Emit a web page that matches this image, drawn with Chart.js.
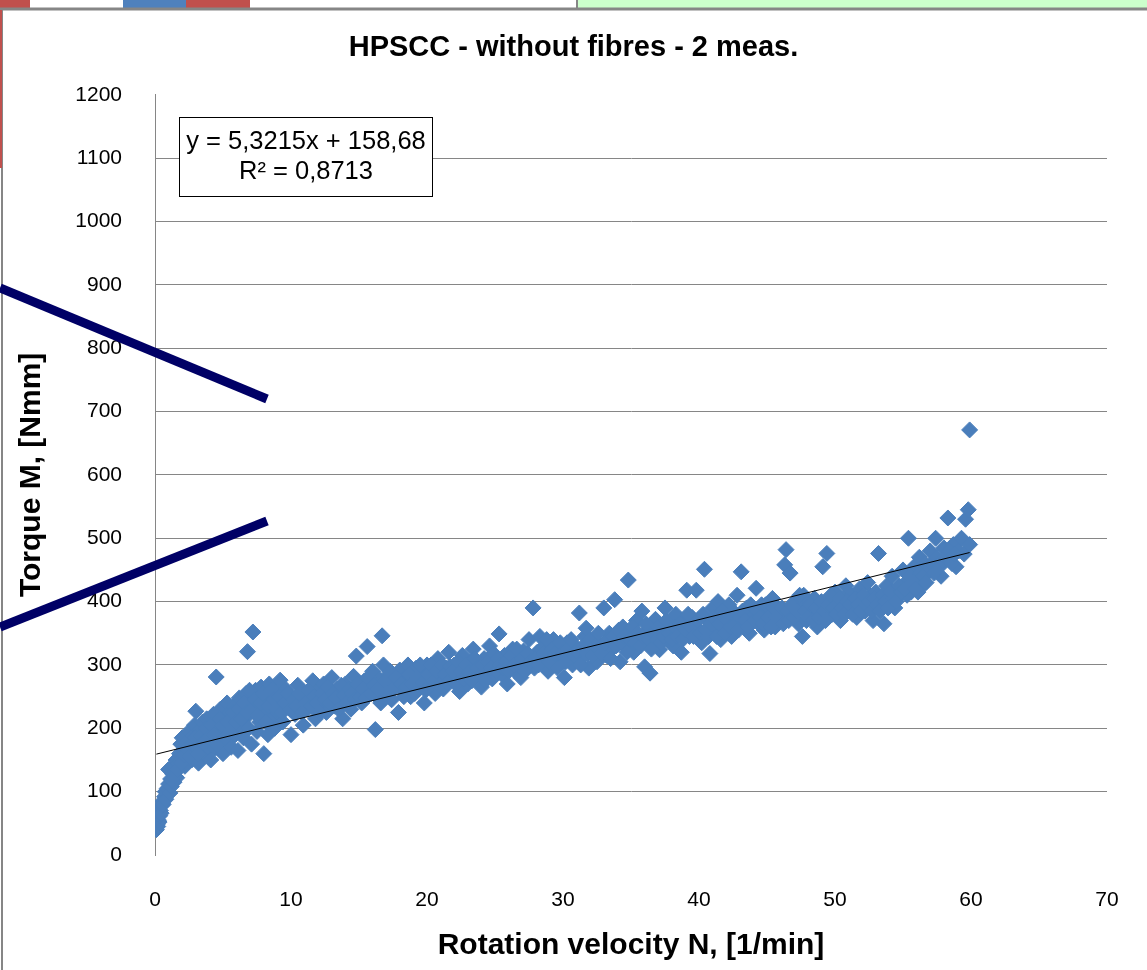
<!DOCTYPE html>
<html>
<head>
<meta charset="utf-8">
<title>HPSCC - without fibres - 2 meas.</title>
<script src="https://cdn.jsdelivr.net/npm/chart.js@4.4.1/dist/chart.umd.min.js"></script>
<style>
    html, body { margin: 0; padding: 0; background: #fff; overflow: hidden; }
    #wrap { position: relative; width: 1147px; height: 970px; }
    #chart, #overlay { position: absolute; left: 0; top: 0; }
    #overlay { pointer-events: none; }
</style>
</head>
<body>
<div id="wrap">
    <canvas id="chart" width="1147" height="970"></canvas>
    <!-- screenshot leftovers: worksheet strip, frame and the two pen strokes -->
    <svg id="overlay" width="1147" height="970">
        <rect x="0" y="0" width="30" height="8" fill="#c0504d"/>
        <rect x="123" y="0" width="63" height="8" fill="#4f81bd"/>
        <rect x="186" y="0" width="64" height="8" fill="#c0504d"/>
        <rect x="578" y="0" width="569" height="8" fill="#ccffcc"/>
        <line x1="577" y1="0" x2="577" y2="8" stroke="#868686" stroke-width="2"/>
        <line x1="0" y1="9" x2="1147" y2="9" stroke="#868686" stroke-width="3"/>
        <line x1="2" y1="9" x2="2" y2="970" stroke="#868686" stroke-width="2"/>
        <rect x="0" y="10" width="2" height="158" fill="#c0504d"/>
        <line x1="0" y1="288" x2="267" y2="399" stroke="#000066" stroke-width="9"/>
        <line x1="0" y1="627" x2="267" y2="521" stroke="#000066" stroke-width="9"/>
    </svg>
</div>
<script>
document.addEventListener('DOMContentLoaded', function () {

    // --- DATA ---
    const velocity = [
        0.1,0.15,0.2,0.25,0.3,0.35,0.4,0.45,0.5,0.55,0.6,0.7,0.75,0.8,0.9,1.0,1.0,1.1,1.15,1.2,
        1.3,1.35,1.4,1.5,1.55,1.6,1.7,1.8,1.85,1.9,2.0,2.0,2.1,2.2,2.3,2.4,2.5,2.6,2.7,2.8,
        2.9,3.0,3.0,3.1,3.2,3.3,3.4,3.5,3.6,3.7,3.8,3.9,4.0,4.1,4.2,4.3,4.4,4.5,4.5,4.6,
        4.7,4.8,4.9,5.0,5.1,5.2,5.3,5.4,5.5,5.6,5.7,5.8,5.9,6.0,6.1,6.2,6.3,6.4,6.5,6.6,
        6.8,6.7,6.9,7.0,7.1,7.2,7.3,7.4,7.5,7.6,7.7,7.8,8.0,8.1,8.2,8.3,8.4,8.5,8.6,8.8,
        8.9,9.0,9.2,9.3,9.4,9.6,9.8,10.0,10.1,10.3,10.5,10.7,10.9,11.0,11.2,11.4,11.6,11.8,12.0,12.2,
        12.4,12.6,12.8,13.0,13.2,13.4,13.6,13.8,14.0,14.2,14.4,14.6,14.8,15.0,15.2,15.4,15.6,15.8,16.0,16.2,
        16.3,16.5,16.7,16.8,17.0,17.2,17.4,17.6,17.9,18.0,18.2,18.4,18.6,18.8,19.0,19.2,19.4,19.6,19.8,20.0,
        20.2,20.4,20.6,20.8,21.0,21.2,21.4,21.6,21.8,22.0,22.2,22.4,22.6,22.8,23.0,23.2,23.4,23.6,23.8,24.0,
        24.2,24.4,24.6,24.8,25.0,25.3,25.5,25.7,25.9,26.1,26.3,26.5,26.7,26.9,27.1,27.3,27.5,27.8,27.9,28.1,
        28.3,28.5,28.7,28.9,29.1,29.3,29.5,29.7,29.9,30.1,30.3,30.5,30.7,30.9,31.2,31.4,31.6,31.7,31.9,32.1,
        32.3,32.5,32.7,33.0,33.2,33.4,33.6,33.8,34.0,34.2,34.4,34.6,34.8,35.0,35.2,35.4,35.6,35.8,36.0,36.2,
        36.4,36.6,36.8,37.1,37.3,37.5,37.7,37.9,38.1,38.3,38.5,38.7,38.9,39.1,39.3,39.5,39.8,40.0,40.2,40.4,
        40.6,40.8,41.0,41.2,41.4,41.6,41.8,42.0,42.2,42.4,42.6,42.8,43.1,43.3,43.5,43.7,44.0,44.2,44.4,44.6,
        44.8,45.0,45.2,45.4,45.6,45.8,46.0,46.3,46.4,46.7,46.9,47.1,47.3,47.5,47.7,47.9,48.1,48.3,48.5,48.7,
        48.9,49.1,49.4,49.6,49.8,50.0,50.2,50.4,50.6,50.8,51.0,51.2,51.4,51.6,51.8,52.0,52.2,52.4,52.6,52.8,
        53.0,53.2,53.4,53.6,53.8,54.0,54.2,54.4,54.6,54.8,55.0,55.2,55.4,55.6,55.8,56.0,56.2,56.4,56.6,56.8,
        57.0,57.2,57.4,57.6,57.8,58.0,58.3,58.5,58.7,58.9,59.1,59.3,59.5,59.6,59.8,59.9,59.9,55.3,56.1,47.6,
        1.25,1.45,1.65,1.95,2.15,2.35,2.55,2.75,2.95,3.15,3.35,3.55,3.75,3.95,4.15,4.35,4.55,4.75,4.95,5.15,
        5.35,5.55,5.75,5.95,6.15,6.35,6.55,6.75,6.95,7.15,7.35,7.55,7.75,7.95,8.15,8.35,8.55,8.75,8.95,9.15,
        9.35,9.55,9.75,9.95,10.2,10.4,10.6,10.8,11.1,11.3,11.5,11.7,11.9,12.1,12.3,12.5,12.7,12.9,13.1,13.3,
        13.5,13.7,13.9,14.1,14.3,14.5,14.7,14.9,15.1,15.3,15.5,15.7,15.9,16.1,16.4,16.6,16.9,17.1,17.3,17.5,
        17.7,18.1,18.3,18.5,18.7,18.9,19.1,19.3,19.5,19.7,19.9,20.1,20.3,20.5,20.7,20.9,21.1,21.3,21.5,21.7,
        21.9,22.1,22.3,22.5,22.7,22.9,23.1,23.3,23.5,23.7,23.9,24.1,24.3,24.5,24.7,24.9,25.1,25.2,25.4,25.6,
        25.8,26.0,26.2,26.4,26.6,26.8,27.0,27.2,27.4,27.6,28.0,28.2,28.4,28.6,28.8,29.0,29.2,29.4,29.6,29.8,
        30.0,30.2,30.4,30.6,30.8,31.0,31.3,31.5,31.8,32.0,32.2,32.4,32.6,32.8,33.1,33.3,33.5,33.7,33.9,34.1,
        34.3,34.5,34.7,34.9,35.1,35.3,35.5,35.7,35.9,36.1,36.3,36.5,36.7,36.9,37.0,37.2,37.4,37.6,37.8,38.0,
        38.2,38.4,38.6,38.8,39.0,39.2,39.4,39.6,39.9,40.1,40.3,40.5,40.7,40.9,41.1,41.3,41.5,41.7,41.9,42.1,
        42.3,42.5,42.7,42.9,43.0,43.2,43.4,43.6,43.8,44.1,44.3,44.5,44.7,44.9,45.1,45.3,45.5,45.7,46.1,46.2,
        46.5,46.6,46.8,47.0,47.2,47.4,47.8,48.0,48.2,48.4,48.6,48.8,49.0,49.2,49.3,49.5,49.7,49.9,50.1,50.3,
        50.5,50.7,50.9,51.1,51.3,51.5,51.7,51.9,52.1,52.3,52.5,52.7,52.9,53.1,53.3,53.5,53.7,53.9,54.1,54.3,
        54.5,54.7,54.9,55.1,55.5,55.7,55.9,56.3,56.5,56.7,56.9,57.1,57.3,57.5,57.7,57.9,58.1,58.4,58.6,58.8
    ];
    const torque = [
        40,48,45,55,52,62,70,66,78,85,80,92,100,88,105,112,135,98,120,108,
        128,140,115,132,150,122,145,160,138,175,152,185,165,140,178,158,195,170,150,188,
        205,227,165,180,145,198,175,210,160,190,215,170,200,150,185,222,168,281,195,210,
        175,230,190,160,215,200,240,180,225,170,205,235,190,220,165,248,200,230,185,215,
        321,255,200,240,175,352,225,260,195,245,210,265,160,230,250,190,270,215,240,200,
        258,225,276,245,210,262,235,190,250,222,268,240,205,255,230,248,275,215,260,238,
        270,225,252,280,235,262,245,215,270,250,230,282,314,258,240,275,329,262,290,198,
        250,278,346,300,265,285,245,272,225,292,260,280,300,250,275,295,262,285,240,300,
        270,288,255,310,280,262,295,320,275,300,285,258,315,290,270,305,325,282,300,265,
        310,290,330,278,300,349,285,315,270,305,325,290,310,280,322,300,340,390,295,320,
        345,305,330,290,315,340,300,325,310,280,335,315,300,330,382,310,345,358,295,325,
        340,305,330,390,315,350,325,403,340,305,360,330,434,350,320,370,340,385,297,355,
        287,335,372,324,350,390,340,365,330,380,350,320,370,418,345,375,418,355,335,451,
        370,318,390,355,400,340,375,360,395,345,380,410,447,360,390,350,380,421,365,395,
        355,385,370,405,360,390,375,458,482,445,380,400,365,390,410,370,395,380,405,360,
        390,455,476,400,380,415,395,370,405,425,385,410,395,375,420,400,385,430,410,370,
        415,476,395,365,425,405,440,390,420,410,450,430,500,415,455,435,470,425,460,445,
        480,450,500,465,440,485,532,470,490,455,480,500,475,530,545,490,671,410,415,345,
        118,125,135,145,158,168,155,175,185,160,188,178,200,185,205,190,175,215,205,185,
        210,195,225,210,230,215,240,225,260,230,245,220,240,255,210,235,260,245,230,250,
        225,240,255,230,245,235,255,225,240,260,235,250,240,225,255,245,265,240,255,248,
        230,268,252,240,262,255,245,270,250,262,248,280,255,268,262,240,275,255,290,262,
        280,270,250,265,285,270,255,280,300,272,260,285,300,275,290,268,300,285,272,298,
        290,270,305,290,278,300,288,275,310,295,285,300,275,305,295,318,290,310,300,295,
        305,290,315,300,325,298,310,290,318,305,310,300,325,318,340,305,325,318,295,335,
        320,305,325,340,315,322,300,330,318,340,315,330,350,318,335,340,310,345,330,355,
        335,345,320,340,360,335,350,330,345,365,340,325,350,340,360,335,345,370,350,340,
        360,345,365,340,355,380,360,345,370,350,380,355,345,365,375,345,365,385,350,370,
        360,385,365,355,375,385,370,360,395,370,385,375,365,395,375,360,390,375,390,365,
        385,370,395,375,385,410,385,375,395,370,390,375,400,385,370,395,410,390,380,405,
        390,380,400,395,380,405,395,385,410,395,400,385,405,395,385,410,400,390,415,405,
        400,425,415,420,440,430,420,445,440,430,455,460,445,470,455,465,470,480,460,475
    ];

    const xTicks = [0, 10, 20, 30, 40, 50, 60, 70];
    const yTicks = [0, 100, 200, 300, 400, 500, 600, 700, 800, 900, 1000, 1100, 1200];

    // linear trendline as reported by the spreadsheet
    const trendSlope = 5.3215;
    const trendIntercept = 158.68;
    const rSquared = 0.8713;

    const FONT = "'Liberation Sans Narrow', 'Liberation Sans', Arial, sans-serif";
    const GRID = '#868686';
    const MARKER = '#4a7ebb';

    Chart.defaults.font.family = FONT;
    Chart.defaults.color = '#000';

    const points = velocity.map((v, i) => ({ x: v, y: torque[i] }));
    const xMin = Math.min(...velocity);
    const xMax = Math.max(...velocity);
    const trend = [xMin, xMax].map(x => ({ x: x, y: trendSlope * x + trendIntercept }));

    const comma = n => String(n).replace('.', ',');

    // equation box in the top left corner of the plot
    const equationBox = {
        id: 'equationBox',
        afterDraw(chart) {
            const ctx = chart.ctx;
            ctx.save();
            ctx.fillStyle = '#fff';
            ctx.strokeStyle = '#000';
            ctx.lineWidth = 1;
            ctx.fillRect(179.5, 117.5, 253, 79);
            ctx.strokeRect(179.5, 117.5, 253, 79);
            ctx.fillStyle = '#000';
            ctx.font = '25.5px ' + FONT;
            ctx.textAlign = 'center';
            ctx.textBaseline = 'middle';
            ctx.fillText('y = ' + comma(trendSlope) + 'x + ' + comma(trendIntercept), 306, 142);
            ctx.fillText('R\u00B2 = ' + comma(rSquared), 306, 172);
            ctx.restore();
        }
    };

    const hideEnds = c => (c.tick && (c.tick.value === yTicks[0] || c.tick.value === yTicks[yTicks.length - 1])) ? 'rgba(0,0,0,0)' : GRID;

    new Chart(document.getElementById('chart'), {
        type: 'scatter',
        data: {
            datasets: [
                {
                    type: 'line',
                    label: 'Linear',
                    data: trend,
                    borderColor: '#000',
                    borderWidth: 1,
                    pointRadius: 0,
                    fill: false,
                    order: 0
                },
                {
                    label: 'Torque',
                    data: points,
                    pointStyle: 'rectRot',
                    pointRadius: 8,
                    backgroundColor: MARKER,
                    borderColor: MARKER,
                    borderWidth: 1,
                    order: 1
                }
            ]
        },
        options: {
            responsive: false,
            animation: false,
            layout: { padding: { top: 31, right: 35, left: 35, bottom: 0 } },
            plugins: {
                legend: { display: false },
                tooltip: { enabled: false },
                title: {
                    display: true,
                    text: 'HPSCC - without fibres - 2 meas.',
                    font: { size: 29, weight: 'bold' },
                    color: '#000',
                    padding: { top: 0, bottom: 29 }
                }
            },
            scales: {
                x: {
                    type: 'linear',
                    min: xTicks[0],
                    max: xTicks[xTicks.length - 1],
                    afterBuildTicks: s => { s.ticks = xTicks.map(v => ({ value: v })); },
                    afterFit: s => { s.height = 115; s.paddingLeft = 0; s.paddingRight = 40; },
                    grid: { display: false, drawTicks: false },
                    border: { display: false },
                    ticks: { padding: 33, font: { size: 21 }, callback: v => String(v), maxRotation: 0 },
                    title: {
                        display: true,
                        text: 'Rotation velocity N, [1/min]',
                        font: { size: 30, weight: 'bold' },
                        padding: { top: 0, bottom: 6 }
                    }
                },
                y: {
                    type: 'linear',
                    min: yTicks[0],
                    max: yTicks[yTicks.length - 1],
                    afterBuildTicks: s => { s.ticks = yTicks.map(v => ({ value: v })); },
                    afterFit: s => { s.width = 120; },
                    grid: { color: hideEnds, lineWidth: 1, drawTicks: false },
                    border: { display: true, color: GRID, width: 1 },
                    ticks: { padding: 33, font: { size: 21 }, callback: v => String(v) },
                    title: {
                        display: true,
                        text: 'Torque M, [Nmm]',
                        font: { size: 30, weight: 'bold' },
                        padding: { top: -21, bottom: 0 }
                    }
                }
            }
        },
        plugins: [equationBox]
    });
});
</script>
</body>
</html>
